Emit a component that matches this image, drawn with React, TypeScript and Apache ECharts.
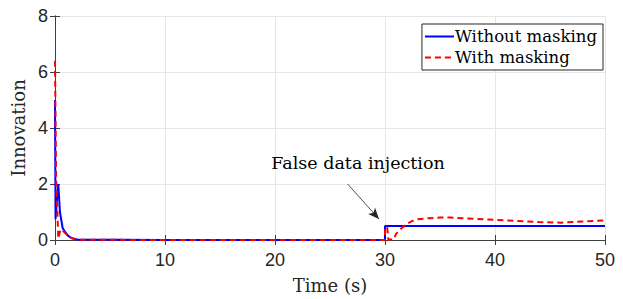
import React, { useEffect, useRef } from "react";
import * as echarts from "echarts";

const xTicks = [0, 10, 20, 30, 40, 50];
const yTicks = [0, 2, 4, 6, 8];

const blueTime = [0, 0.05, 0.15, 0.3, 0.45, 0.7, 0.9, 1.2, 1.5, 2, 10, 20, 30, 30, 35, 40, 45, 50];
const blueValue = [5.0, 0.75, 1.3, 2.0, 1.0, 0.42, 0.3, 0.15, 0.07, 0.02, 0, 0, 0, 0.5, 0.5, 0.5, 0.5, 0.5];

const redTime = [0, 0.1, 0.2, 0.3, 0.5, 0.8, 1.2, 1.6, 2, 10, 20, 30, 30, 30.2, 30.3, 30.8, 31, 31.5, 32, 32.5, 33, 34, 35, 36, 37, 38, 40, 42, 44, 46, 48, 50];
const redValue = [6.4, 2.2, 1.2, 0.05, 0.38, 0.3, 0.14, 0.05, 0.01, 0, 0, 0, 0.45, 0.45, 0.02, 0.02, 0.22, 0.42, 0.58, 0.68, 0.74, 0.78, 0.8, 0.8, 0.78, 0.76, 0.72, 0.68, 0.64, 0.62, 0.66, 0.7];

const seriesNames = ["Without masking", "With masking"];
const annotationText = "False data injection";
const annotationAt = [27.55, 2.75];
const arrowFrom = [26.6, 2.0];
const arrowTo = [29.45, 0.75];

const SERIF = "DejaVu Serif";
const SANS = "Liberation Sans";
const AXIS_COLOR = "#404040";

export default function App() {
  const ref = useRef<HTMLDivElement>(null);
  useEffect(() => {
    if (!ref.current) return;
    const chart = echarts.init(ref.current, undefined, { renderer: "svg" });
    const xMin = xTicks[0], xMax = xTicks[xTicks.length - 1];
    const yMin = yTicks[0], yMax = yTicks[yTicks.length - 1];
    const xInt = xTicks[1] - xTicks[0];
    const yInt = yTicks[1] - yTicks[0];
    const boxAxisX = {
      type: "value", position: "top", min: xMin, max: xMax, interval: xInt,
      axisLine: { show: true, lineStyle: { color: AXIS_COLOR, width: 1 } },
      axisTick: { show: true, inside: true, length: 5, lineStyle: { color: AXIS_COLOR } },
      axisLabel: { show: false }, splitLine: { show: false },
    };
    const boxAxisY = {
      type: "value", position: "right", min: yMin, max: yMax, interval: yInt,
      axisLine: { show: true, lineStyle: { color: AXIS_COLOR, width: 1 } },
      axisTick: { show: true, inside: true, length: 5, lineStyle: { color: AXIS_COLOR } },
      axisLabel: { show: false }, splitLine: { show: false },
    };
    chart.setOption({
      animation: false,
      backgroundColor: "#ffffff",
      grid: { left: 55, right: 18, top: 16, bottom: 59, containLabel: false },
      legend: {
        orient: "vertical",
        right: 20,
        top: 24,
        data: seriesNames,
        backgroundColor: "#ffffff",
        borderColor: "#262626",
        borderWidth: 1,
        padding: [4, 6, 4, 2],
        itemGap: 4,
        itemWidth: 29,
        itemHeight: 14,
        itemStyle: { opacity: 0 },
        textStyle: { fontFamily: SERIF, fontSize: 16.5, color: "#000000", padding: [0, 0, 0, -4] },
      },
      xAxis: [
        {
          type: "value", min: xMin, max: xMax, interval: xInt,
          name: "Time (s)", nameLocation: "middle", nameGap: 36,
          nameTextStyle: { fontFamily: SERIF, fontSize: 18, color: "#262626" },
          axisLine: { show: true, onZero: false, lineStyle: { color: AXIS_COLOR, width: 1 } },
          axisTick: { show: true, inside: true, length: 5, lineStyle: { color: AXIS_COLOR } },
          axisLabel: { fontFamily: SANS, fontSize: 18, color: "#262626", margin: 11 },
          splitLine: { show: true, lineStyle: { color: "#e6e6e6", width: 1 } },
        },
        boxAxisX,
      ],
      yAxis: [
        {
          type: "value", min: yMin, max: yMax, interval: yInt,
          name: "Innovation", nameLocation: "middle", nameGap: 28,
          nameTextStyle: { fontFamily: SERIF, fontSize: 18, color: "#262626" },
          axisLine: { show: true, onZero: false, lineStyle: { color: AXIS_COLOR, width: 1 } },
          axisTick: { show: true, inside: true, length: 5, lineStyle: { color: AXIS_COLOR } },
          axisLabel: { fontFamily: SANS, fontSize: 18, color: "#262626", margin: 7 },
          splitLine: { show: true, lineStyle: { color: "#e6e6e6", width: 1 } },
        },
        boxAxisY,
      ],
      series: [
        {
          name: seriesNames[0],
          type: "line",
          xAxisIndex: 0, yAxisIndex: 0,
          symbol: "none",
          data: blueTime.map((t, i) => [t, blueValue[i]]),
          lineStyle: { color: "#0000ff", width: 2 },
          itemStyle: { color: "#0000ff" },
          z: 2,
        },
        {
          name: seriesNames[1],
          type: "line",
          xAxisIndex: 0, yAxisIndex: 0,
          symbol: "none",
          data: redTime.map((t, i) => [t, redValue[i]]),
          lineStyle: { color: "#ff0000", width: 2, type: [6, 4] },
          itemStyle: { color: "#ff0000" },
          z: 3,
          markLine: {
            silent: true,
            symbol: ["none", "arrow"],
            symbolSize: [7, 11],
            label: { show: false },
            lineStyle: { color: "#262626", width: 0.8, type: "solid" },
            data: [[{ coord: arrowFrom }, { coord: arrowTo }]],
          },
          markPoint: {
            silent: true,
            symbol: "circle",
            symbolSize: 0,
            data: [{ coord: annotationAt }],
            label: {
              show: true,
              position: "inside",
              formatter: annotationText,
              fontFamily: SERIF,
              fontSize: 17.5,
              color: "#000000",
            },
          },
        },
      ],
    });
    return () => chart.dispose();
  }, []);
  return (
    <div
      ref={ref}
      style={{ position: "fixed", left: 0, top: 0, width: 623, height: 299, background: "#fff" }}
    />
  );
}
